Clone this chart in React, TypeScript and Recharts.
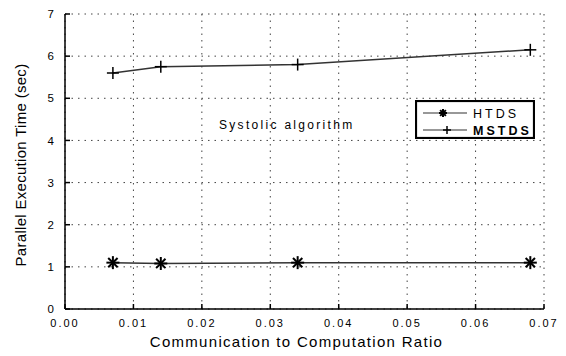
import React from 'react';
import {
  LineChart,
  Line,
  XAxis,
  YAxis,
  CartesianGrid,
  Legend,
} from 'recharts';

const ratios = [0.007, 0.014, 0.034, 0.068];
const htds = [1.1, 1.08, 1.1, 1.1];
const mstds = [5.6, 5.75, 5.8, 6.15];
const xTicks = [0, 0.01, 0.02, 0.03, 0.04, 0.05, 0.06, 0.07];
const yTicks = [0, 1, 2, 3, 4, 5, 6, 7];
const xMinorTicks = [0, 0.005, 0.01, 0.015, 0.02, 0.025, 0.03, 0.035, 0.04, 0.045, 0.05, 0.055, 0.06, 0.065, 0.07];
const yMinorTicks = [0, 0.5, 1, 1.5, 2, 2.5, 3, 3.5, 4, 4.5, 5, 5.5, 6, 6.5, 7];

const data = ratios.map((r, i) => ({ ratio: r, htds: htds[i], mstds: mstds[i] }));

const font = '"Liberation Sans", Arial, sans-serif';

const Star = ({ cx, cy, size = 6 }: any) => {
  if (cx == null || cy == null) return null;
  const s = size;
  const d = s * 0.72;
  return (
    <g stroke="#000" strokeWidth={2}>
      <line x1={cx - s} y1={cy} x2={cx + s} y2={cy} />
      <line x1={cx} y1={cy - s} x2={cx} y2={cy + s} />
      <line x1={cx - d} y1={cy - d} x2={cx + d} y2={cy + d} />
      <line x1={cx - d} y1={cy + d} x2={cx + d} y2={cy - d} />
    </g>
  );
};

const Plus = ({ cx, cy, size = 6 }: any) => {
  if (cx == null || cy == null) return null;
  const s = size;
  return (
    <g stroke="#000" strokeWidth={1.5}>
      <line x1={cx - s} y1={cy} x2={cx + s} y2={cy} />
      <line x1={cx} y1={cy - s} x2={cx} y2={cy + s} />
    </g>
  );
};

const LegendBox = () => (
  <svg width={120} height={39} style={{ display: 'block' }}>
    <rect x={1} y={1} width={118} height={37} fill="#fff" stroke="#000" strokeWidth={2.2} />
    <line x1={8} y1={13} x2={52} y2={13} stroke="#333" strokeWidth={1.2} />
    <Star cx={28} cy={13} size={4} />
    <line x1={8} y1={30} x2={52} y2={30} stroke="#333" strokeWidth={1.2} />
    <Plus cx={32} cy={30} size={4} />
    <text x={58} y={17.5} fontFamily={font} fontSize={12.5} letterSpacing={3}>HTDS</text>
    <text x={58} y={34.5} fontFamily={font} fontSize={12.5} letterSpacing={3} fontWeight="bold">MSTDS</text>
  </svg>
);

const App = () => {
  return (
    <div style={{ position: 'absolute', left: 0, top: 0, width: 566, height: 356, background: '#fff' }}>
      <LineChart
        width={566}
        height={356}
        data={data}
        margin={{ top: 14, right: 22, bottom: 0, left: 0 }}
      >
        <CartesianGrid stroke="#444" strokeDasharray="1.5 5" />
        <XAxis
          dataKey="ratio"
          type="number"
          domain={[0, 0.07]}
          ticks={xTicks}
          interval={0}
          tickFormatter={(v: number) => v.toFixed(2)}
          height={47}
          tickSize={-5}
          tickMargin={15}
          stroke="#000"
          strokeWidth={1.5}
          tick={{ fill: '#000', fontSize: 11, fontFamily: font, letterSpacing: 2 }}
          label={{
            value: 'Communication to Computation Ratio',
            position: 'insideBottom',
            offset: 9,
            dx: -8,
            fill: '#000',
            fontSize: 15,
            fontFamily: font,
            letterSpacing: 1.3,
          }}
        />
        <XAxis
          xAxisId="top"
          orientation="top"
          type="number"
          domain={[0, 0.07]}
          ticks={xMinorTicks}
          interval={0}
          height={0}
          tickSize={-4}
          tick={false}
          stroke="#000"
          strokeWidth={1.5}
        />
        <YAxis
          type="number"
          domain={[0, 7]}
          ticks={yTicks}
          interval={0}
          width={65}
          tickSize={-5}
          tickMargin={16}
          stroke="#000"
          strokeWidth={1.5}
          tick={{ fill: '#000', fontSize: 11.5, fontFamily: font }}
          label={{
            content: () => (
              <text
                x={22}
                y={165}
                transform="rotate(-90 22 165)"
                textAnchor="middle"
                dominantBaseline="middle"
                fontSize={15}
                fontFamily={font}
                letterSpacing={0.3}
                fill="#000"
              >
                Parallel Execution Time (sec)
              </text>
            ),
          }}
        />
        <YAxis
          yAxisId="right"
          orientation="right"
          type="number"
          domain={[0, 7]}
          ticks={yMinorTicks}
          interval={0}
          width={0}
          tickSize={-4}
          tick={false}
          stroke="#000"
          strokeWidth={1.5}
        />
        <Legend
          layout="horizontal"
          verticalAlign="middle"
          align="center"
          content={() => <LegendBox />}
          wrapperStyle={{ position: 'absolute', left: 415, top: 100, width: 120, height: 39 }}
        />
        <Line
          dataKey="htds"
          name="HTDS"
          stroke="#333"
          strokeWidth={1.5}
          dot={(p: any) => <Star key={`h${p.index}`} cx={p.cx} cy={p.cy} size={6.5} />}
          activeDot={false}
          isAnimationActive={false}
        />
        <Line
          dataKey="mstds"
          name="MSTDS"
          stroke="#333"
          strokeWidth={1.5}
          dot={(p: any) => <Plus key={`m${p.index}`} cx={p.cx} cy={p.cy} size={6} />}
          activeDot={false}
          isAnimationActive={false}
        />
      </LineChart>
      <div
        style={{
          position: 'absolute',
          left: 219,
          top: 118,
          fontFamily: font,
          fontSize: 12,
          letterSpacing: 2.3,
          color: '#000',
          whiteSpace: 'nowrap',
        }}
      >
        Systolic algorithm
      </div>
    </div>
  );
};

export default App;
